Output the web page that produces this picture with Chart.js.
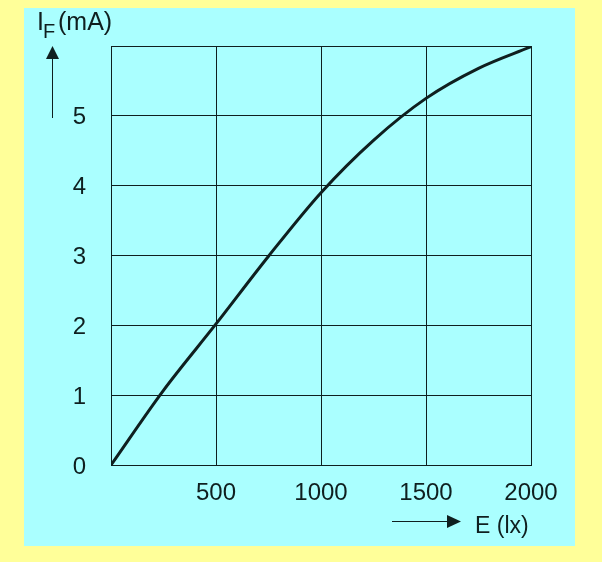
<!DOCTYPE html>
<html>
<head>
<meta charset="utf-8">
<script src="https://cdn.jsdelivr.net/npm/chart.js@4/dist/chart.umd.min.js"></script>
<style>
  html, body { margin: 0; padding: 0; background: #ffff99; }
  #wrap { position: relative; width: 602px; height: 562px; }
</style>
</head>
<body>
<div id="wrap"><canvas id="chart" width="602" height="562"></canvas></div>
<script>
// illuminance E (lx) vs. photocurrent I_F (mA)
const lux = [0, 250, 500, 750, 1000, 1250, 1500, 1750, 2000];
const current = [0, 1.07, 2.02, 2.99, 3.9, 4.65, 5.25, 5.68, 5.99];
const xTicks = [500, 1000, 1500, 2000];
const yTicks = [0, 1, 2, 3, 4, 5];

const FONT = '"Liberation Sans", Arial, sans-serif';
const INK = '#0f1f1f';

const panel = {
  id: 'panel',
  beforeDraw(chart) {
    const c = chart.ctx;
    c.save();
    c.fillStyle = '#ffff99';
    c.fillRect(0, 0, chart.width, chart.height);
    c.fillStyle = '#aaffff';
    c.fillRect(24, 8, 551, 538);
    c.restore();
  },
  afterDraw(chart) {
    const c = chart.ctx;
    c.save();
    c.fillStyle = INK;
    c.strokeStyle = INK;
    c.textBaseline = 'alphabetic';

    // y axis title I_F (mA)
    c.font = '25px ' + FONT;
    c.fillText('I', 37, 30);
    c.font = '20px ' + FONT;
    c.fillText('F', 43, 38);
    c.font = '25px ' + FONT;
    c.fillText('(mA)', 58, 30);

    // up arrow
    c.lineWidth = 1;
    c.beginPath();
    c.moveTo(52.5, 118);
    c.lineTo(52.5, 56);
    c.stroke();
    c.beginPath();
    c.moveTo(52.5, 46);
    c.lineTo(46, 59);
    c.lineTo(59, 59);
    c.closePath();
    c.fill();

    // right arrow + E (lx)
    c.beginPath();
    c.moveTo(392, 521.5);
    c.lineTo(450, 521.5);
    c.stroke();
    c.beginPath();
    c.moveTo(461, 521.5);
    c.lineTo(447, 515);
    c.lineTo(447, 528);
    c.closePath();
    c.fill();
    c.font = '23px ' + FONT;
    c.fillText('E (lx)', 475, 533);
    c.restore();
  }
};

new Chart(document.getElementById('chart'), {
  type: 'line',
  data: {
    labels: lux,
    datasets: [{
      data: lux.map((x, i) => ({ x: x, y: current[i] })),
      borderColor: INK,
      borderWidth: 3,
      pointRadius: 0,
      fill: false,
      cubicInterpolationMode: 'monotone'
    }]
  },
  options: {
    responsive: false,
    animation: false,
    events: [],
    layout: { padding: { top: 46, right: 71, left: 0, bottom: 0 } },
    plugins: { legend: { display: false }, tooltip: { enabled: false } },
    scales: {
      x: {
        type: 'linear',
        min: 0,
        max: 2000,
        afterFit: (s) => { s.height = 97; },
        afterBuildTicks: (s) => { s.ticks = [0].concat(xTicks).map((v) => ({ value: v })); },
        border: { display: true, color: INK, width: 1 },
        grid: { color: INK, lineWidth: 1, drawTicks: false },
        ticks: {
          padding: 14,
          color: INK,
          maxRotation: 0,
          font: { family: FONT, size: 24 },
          callback: (v) => (xTicks.includes(v) ? String(v) : '')
        }
      },
      y: {
        min: 0,
        max: 6,
        afterFit: (s) => { s.width = 111; },
        afterBuildTicks: (s) => { s.ticks = yTicks.concat([6]).map((v) => ({ value: v })); },
        border: { display: true, color: INK, width: 1 },
        grid: { color: INK, lineWidth: 1, drawTicks: false },
        ticks: {
          padding: 25,
          labelOffset: 2,
          color: INK,
          font: { family: FONT, size: 24 },
          callback: (v) => (yTicks.includes(v) ? String(v) : '')
        }
      }
    }
  },
  plugins: [panel]
});
</script>
</body>
</html>
